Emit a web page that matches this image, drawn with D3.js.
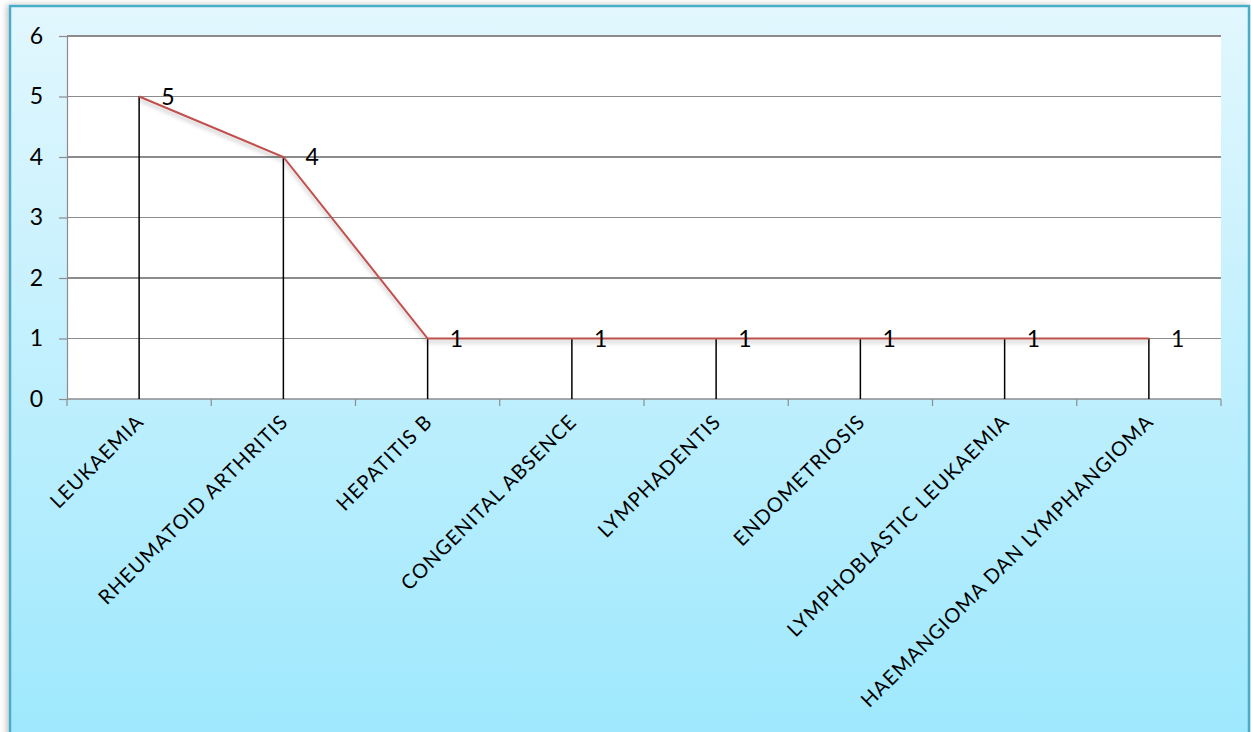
<!DOCTYPE html>
<html>
<head>
<meta charset="utf-8">
<script src="https://cdn.jsdelivr.net/npm/d3@7"></script>
<style>
  html, body { margin: 0; padding: 0; background: #ffffff; }
  svg { display: block; }
</style>
</head>
<body>
<svg id="chart" width="1251" height="732"></svg>
<script>
// Diagnoses and number of cases
const categories = [
  "LEUKAEMIA",
  "RHEUMATOID ARTHRITIS",
  "HEPATITIS B",
  "CONGENITAL ABSENCE",
  "LYMPHADENTIS",
  "ENDOMETRIOSIS",
  "LYMPHOBLASTIC LEUKAEMIA",
  "HAEMANGIOMA DAN LYMPHANGIOMA"
];
const cases = [5, 4, 1, 1, 1, 1, 1, 1];
const yTicks = [0, 1, 2, 3, 4, 5, 6];

const W = 1251, H = 732;
const plot = { left: 67, right: 1221, top: 36, bottom: 399 };
const FONT = "Lato, 'Open Sans', sans-serif";

const svg = d3.select("#chart");
const defs = svg.append("defs");

// Frame fill: pale at the top, deeper cyan toward the bottom
const grad = defs.append("linearGradient")
  .attr("id", "bg").attr("x1", 0).attr("y1", 0).attr("x2", 0).attr("y2", 1);
grad.append("stop").attr("offset", "0%").attr("stop-color", "#e2f7fe");
grad.append("stop").attr("offset", "100%").attr("stop-color", "#9de8fd");

// Soft shadow under the line series
const shadow = defs.append("filter").attr("id", "lineShadow")
  .attr("x", "-5%").attr("y", "-20%").attr("width", "110%").attr("height", "160%");
shadow.append("feDropShadow")
  .attr("dx", 0).attr("dy", 3).attr("stdDeviation", 2.2)
  .attr("flood-color", "#000").attr("flood-opacity", 0.28);

const frameShadow = defs.append("filter").attr("id", "frameShadow")
  .attr("x", "-5%").attr("y", "-5%").attr("width", "110%").attr("height", "110%");
frameShadow.append("feDropShadow")
  .attr("dx", -2).attr("dy", 0).attr("stdDeviation", 3)
  .attr("flood-color", "#000").attr("flood-opacity", 0.25);

// Outer frame
svg.append("rect")
  .attr("x", 10).attr("y", 6).attr("width", W - 12).attr("height", H + 10)
  .attr("fill", "url(#bg)")
  .attr("stroke", "#4bacc6").attr("stroke-width", 2.5)
  .attr("filter", "url(#frameShadow)");

// Scales
const x = d3.scaleBand().domain(categories).range([plot.left, plot.right]).padding(0);
const y = d3.scaleLinear().domain([0, 6]).range([plot.bottom, plot.top]);
const cx = d => x(d) + x.bandwidth() / 2;

// Plot area
svg.append("rect")
  .attr("x", plot.left).attr("y", plot.top)
  .attr("width", plot.right - plot.left).attr("height", plot.bottom - plot.top)
  .attr("fill", "#ffffff");

// Horizontal gridlines
svg.append("g")
  .selectAll("line")
  .data(yTicks.filter(t => t > 0))
  .join("line")
  .attr("x1", plot.left).attr("x2", plot.right)
  .attr("y1", d => y(d)).attr("y2", d => y(d))
  .attr("stroke", "#8c8c8c").attr("stroke-width", 1.2)
  .attr("shape-rendering", "crispEdges");

// Y axis
const yAxis = svg.append("g")
  .attr("transform", `translate(${plot.left},0)`)
  .call(d3.axisLeft(y).tickValues(yTicks).tickSize(8).tickPadding(16).tickFormat(d3.format("d")));
yAxis.select(".domain").attr("stroke", "#8c8c8c").attr("stroke-width", 1.2);
yAxis.selectAll(".tick line").attr("stroke", "#8c8c8c").attr("stroke-width", 1.2);
yAxis.selectAll(".tick text")
  .attr("fill", "#000").style("font-family", FONT).style("font-size", "23px");

// X axis: ticks on category boundaries
const boundaries = categories.map(c => x(c)).concat([plot.right]);
const xAxisG = svg.append("g");
xAxisG.append("line")
  .attr("x1", plot.left).attr("x2", plot.right)
  .attr("y1", plot.bottom).attr("y2", plot.bottom)
  .attr("stroke", "#8c8c8c").attr("stroke-width", 1.5);
xAxisG.selectAll("line.tick")
  .data(boundaries)
  .join("line").attr("class", "tick")
  .attr("x1", d => d).attr("x2", d => d)
  .attr("y1", plot.bottom).attr("y2", plot.bottom + 7)
  .attr("stroke", "#8c8c8c").attr("stroke-width", 1.2);

// Category labels, rotated
xAxisG.selectAll("text")
  .data(categories)
  .join("text")
  .attr("transform", d => `translate(${cx(d) + 6},${plot.bottom + 24}) rotate(-45)`)
  .attr("text-anchor", "end")
  .attr("fill", "#000")
  .style("font-family", FONT).style("font-size", "20px")
  .style("letter-spacing", "1.1px")
  .text(d => d);

// Drop lines from each point to the baseline
svg.append("g")
  .selectAll("line")
  .data(categories)
  .join("line")
  .attr("x1", d => cx(d)).attr("x2", d => cx(d))
  .attr("y1", (d, i) => y(cases[i])).attr("y2", y(0))
  .attr("stroke", "#000").attr("stroke-width", 1.5);

// Line series
const line = d3.line().x((d, i) => cx(categories[i])).y(d => y(d));
svg.append("path")
  .datum(cases)
  .attr("d", line)
  .attr("fill", "none")
  .attr("stroke", "#c0504d").attr("stroke-width", 2)
  .attr("filter", "url(#lineShadow)");

// Value labels
svg.append("g")
  .selectAll("text")
  .data(cases)
  .join("text")
  .attr("x", (d, i) => cx(categories[i]) + 22)
  .attr("y", d => y(d))
  .attr("dy", "0.36em")
  .attr("fill", "#000")
  .style("font-family", FONT).style("font-size", "23px")
  .text(d => d);
</script>
</body>
</html>
